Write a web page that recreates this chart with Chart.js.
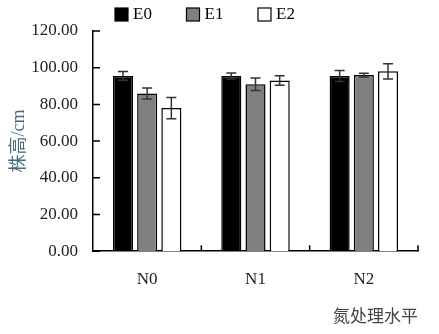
<!DOCTYPE html>
<html>
<head>
<meta charset="utf-8">
<script src="https://cdn.jsdelivr.net/npm/chart.js@4"></script>
<style>
    html, body { margin: 0; padding: 0; background: #fff; }
    #wrap { width: 439px; height: 334px; }
</style>
</head>
<body>
<div id="wrap"><canvas id="heightChart" width="439" height="334"></canvas></div>
<script>
// Data (plant height, cm)
const categories = ['N0', 'N1', 'N2'];
const seriesNames = ['E0', 'E1', 'E2'];
const e0Values = [95.5, 95.5, 95.5];
const e1Values = [86.0, 91.0, 96.0];
const e2Values = [78.0, 93.0, 98.0];
const e0Errors = [2.4, 1.6, 3.0];
const e1Errors = [3.0, 3.4, 1.0];
const e2Errors = [5.8, 2.6, 4.2];
const yTicks = [0, 20, 40, 60, 80, 100, 120];

const serif = "'Liberation Serif', 'Noto Sans CJK SC', serif";

document.addEventListener('DOMContentLoaded', () => {
    const ctx = document.getElementById('heightChart').getContext('2d');

    // error bars drawn from the y scale
    const errorBars = {
        id: 'errorBars',
        afterDatasetsDraw: (chart) => {
            const c = chart.ctx;
            const y = chart.scales.y;
            c.save();
            c.strokeStyle = '#333';
            c.lineWidth = 1.5;
            chart.data.datasets.forEach((ds, di) => {
                const meta = chart.getDatasetMeta(di);
                meta.data.forEach((bar, i) => {
                    const top = y.getPixelForValue(ds.data[i] + ds.errors[i]);
                    const bot = y.getPixelForValue(ds.data[i] - ds.errors[i]);
                    c.beginPath();
                    c.moveTo(bar.x, top); c.lineTo(bar.x, bot);
                    c.moveTo(bar.x - 5, top); c.lineTo(bar.x + 5, top);
                    c.moveTo(bar.x - 5, bot); c.lineTo(bar.x + 5, bot);
                    c.stroke();
                });
            });
            c.restore();
        }
    };

    // inward tick marks on both axes
    const innerTicks = {
        id: 'innerTicks',
        afterDraw: (chart) => {
            const c = chart.ctx;
            const x = chart.scales.x;
            const y = chart.scales.y;
            const area = chart.chartArea;
            c.save();
            c.strokeStyle = '#000';
            c.lineWidth = 1.5;
            c.beginPath();
            y.ticks.forEach(t => {
                const py = y.getPixelForValue(t.value);
                c.moveTo(area.left, py); c.lineTo(area.left + 7, py);
            });
            const step = x.width / categories.length;
            for (let i = 1; i <= categories.length; i++) {
                const px = x.left + i * step;
                c.moveTo(px, area.bottom); c.lineTo(px, area.bottom - 6);
            }
            c.stroke();
            c.restore();
        }
    };

    // simple legend row above the plot (built-in one pads too much vertically)
    const topLegend = {
        id: 'topLegend',
        afterDraw: (chart) => {
            const c = chart.ctx;
            const startX = chart.chartArea.left + 22;
            c.save();
            c.font = '17px ' + serif;
            c.textBaseline = 'middle';
            c.lineWidth = 1.2;
            chart.data.datasets.forEach((ds, k) => {
                const bx = startX + k * 71.5;
                c.fillStyle = ds.backgroundColor;
                c.fillRect(bx, 8, 13, 13);
                c.strokeStyle = '#000';
                c.strokeRect(bx, 8, 13, 13);
                c.fillStyle = '#000';
                c.fillText(ds.label, bx + 18, 15);
            });
            c.restore();
        }
    };

    const fills = ['#000000', '#808080', '#ffffff'];
    const values = [e0Values, e1Values, e2Values];
    const errors = [e0Errors, e1Errors, e2Errors];

    new Chart(ctx, {
        type: 'bar',
        data: {
            labels: categories,
            datasets: seriesNames.map((name, k) => ({
                label: name,
                data: values[k],
                errors: errors[k],
                backgroundColor: fills[k],
                borderColor: '#000',
                borderWidth: 1.5,
                categoryPercentage: 0.67,
                barPercentage: 0.83
            }))
        },
        options: {
            responsive: false,
            animation: false,
            layout: { padding: { top: 31, right: 21, left: 0, bottom: 6 } },
            plugins: {
                legend: { display: false },
                tooltip: { enabled: false }
            },
            scales: {
                x: {
                    grid: { display: false, drawTicks: false },
                    border: { display: true, color: '#000', width: 1.5 },
                    ticks: { color: '#222', padding: 18, font: { family: serif, size: 17 } },
                    title: {
                        display: true,
                        text: '氮处理水平',
                        align: 'end',
                        color: '#444',
                        padding: { top: 0, bottom: 0 },
                        font: { family: serif, size: 17 }
                    }
                },
                y: {
                    min: 0,
                    max: 120,
                    afterBuildTicks: (s) => { s.ticks = yTicks.map(v => ({ value: v })); },
                    afterFit: (s) => { s.width = 93; },
                    grid: { display: false, drawTicks: false },
                    border: { display: true, color: '#000', width: 1.5 },
                    ticks: {
                        color: '#222',
                        padding: 15,
                        font: { family: serif, size: 17 },
                        callback: (v) => Number(v).toFixed(2)
                    },
                    title: {
                        display: true,
                        text: '株高/cm',
                        color: '#466a78',
                        padding: { top: 8, bottom: 0 },
                        font: { family: serif, size: 18 }
                    }
                }
            }
        },
        plugins: [errorBars, innerTicks, topLegend]
    });
});
</script>
</body>
</html>
